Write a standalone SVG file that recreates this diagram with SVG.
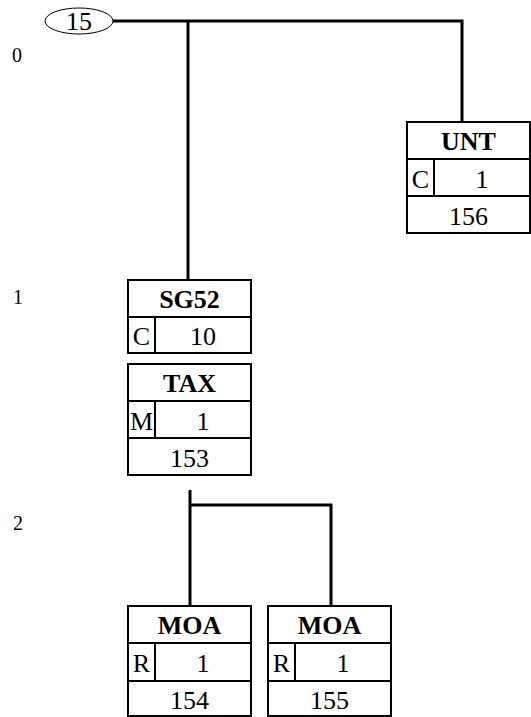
<svg xmlns="http://www.w3.org/2000/svg" width="531" height="717" viewBox="0 0 531 717">
<style>
.box{fill:#fff;stroke:#000;stroke-width:2}
.ln{fill:none;stroke:#000;stroke-width:2}
.con{fill:none;stroke:#000;stroke-width:3}
text{font-family:"Liberation Serif","Times New Roman",serif;font-size:26px;fill:#000}
.h{font-weight:bold;text-anchor:middle}
.c{text-anchor:middle}
.lvl{font-size:20px}
</style>
<rect width="531" height="717" fill="#fff"/>
<g id="levels">
<text class="lvl" x="12" y="62">0</text>
<text class="lvl" x="13" y="304">1</text>
<text class="lvl" x="13" y="530">2</text>
</g>
<g id="connectors">
<path class="con" d="M113 21H462V122"/>
<path class="con" d="M188 21V280"/>
<path class="con" d="M190 490V606"/>
<path class="con" d="M190 505H331V606"/>
</g>
<g id="n15">
<ellipse cx="79" cy="21" rx="34" ry="13" fill="#fff" stroke="#000" stroke-width="1"/>
<text class="c" x="79" y="30">15</text>
</g>
<g id="UNT">
<rect class="box" x="407" y="122" width="123" height="111"/>
<path class="ln" d="M407 159H530M407 196H530M434 159V196"/>
<text class="h" x="468.5" y="150">UNT</text>
<text class="c" x="420.5" y="188">C</text>
<text class="c" x="482" y="188">1</text>
<text class="c" x="468.5" y="225">156</text>
</g>
<g id="SG52">
<rect class="box" x="128" y="280" width="123" height="73"/>
<path class="ln" d="M128 317H251M155 317V353"/>
<text class="h" x="189.5" y="308">SG52</text>
<text class="c" x="141.5" y="345">C</text>
<text class="c" x="203" y="345">10</text>
</g>
<g id="TAX">
<rect class="box" x="128" y="364" width="123" height="111"/>
<path class="ln" d="M128 401H251M128 438H251M155 401V438"/>
<text class="h" x="189.5" y="392">TAX</text>
<text class="c" x="141.5" y="430">M</text>
<text class="c" x="203" y="430">1</text>
<text class="c" x="189.5" y="467">153</text>
</g>
<g id="MOA154">
<rect class="box" x="128" y="606" width="123" height="110"/>
<path class="ln" d="M128 643H251M128 681H251M155 643V681"/>
<text class="h" x="189.5" y="634">MOA</text>
<text class="c" x="141.5" y="672">R</text>
<text class="c" x="203" y="672">1</text>
<text class="c" x="189.5" y="709">154</text>
</g>
<g id="MOA155">
<rect class="box" x="268" y="606" width="123" height="110"/>
<path class="ln" d="M268 643H391M268 681H391M295 643V681"/>
<text class="h" x="329.5" y="634">MOA</text>
<text class="c" x="281.5" y="672">R</text>
<text class="c" x="343" y="672">1</text>
<text class="c" x="329.5" y="709">155</text>
</g>
</svg>
